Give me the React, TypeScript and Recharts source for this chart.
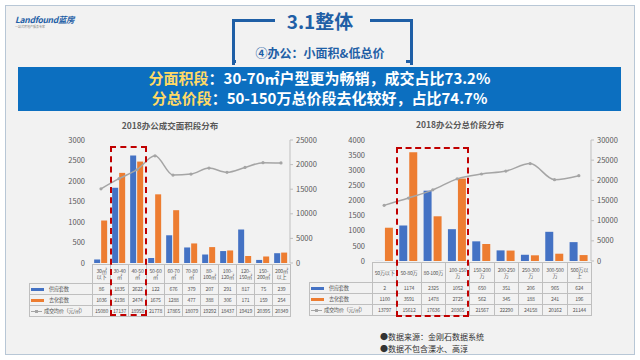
import React from 'react';
import { ComposedChart, Bar, Line, XAxis, YAxis } from 'recharts';

const areaCats = ['30㎡以下', '30-40㎡', '40-50㎡', '50-60㎡', '60-70㎡', '70-80㎡', '80-100㎡', '100-120㎡', '120-150㎡', '150-200㎡', '200㎡以上'];
const areaCatLabels = ['30㎡|以下', '30-40|㎡', '40-50|㎡', '50-60|㎡', '60-70|㎡', '70-80|㎡', '80-|100㎡', '100-|120㎡', '120-|150㎡', '150-|200㎡', '200㎡|以上'];
const areaSupply = [86, 1835, 2622, 122, 676, 379, 207, 291, 817, 75, 239];
const areaSold = [1036, 2198, 2474, 1675, 1288, 477, 388, 306, 171, 159, 254];
const areaPrice = [15080, 17137, 18958, 21778, 17865, 18079, 19292, 18437, 19419, 20395, 20349];
const areaLeftTicks = [0, 500, 1000, 1500, 2000, 2500, 3000];
const areaRightTicks = [0, 5000, 10000, 15000, 20000, 25000];

const priceCats = ['50万以下', '50-80万', '80-100万', '100-150万', '150-200万', '200-250万', '250-300万', '300-500万', '500万以上'];
const priceCatLabels = ['50万以下', '50-80万', '80-100万', '100-150|万', '150-200|万', '200-250|万', '250-300|万', '300-500|万', '500万以|上'];
const priceSupply = [2, 1174, 2325, 1052, 650, 351, 206, 965, 624];
const priceSold = [1100, 3591, 1478, 2725, 562, 345, 188, 241, 196];
const priceAvg = [13797, 15612, 17636, 20365, 21567, 22290, 24158, 20162, 21144];
const priceLeftTicks = [0, 500, 1000, 1500, 2000, 2500, 3000, 3500, 4000];
const priceRightTicks = [0, 5000, 10000, 15000, 20000, 25000, 30000];

const seriesNames = ['供应套数', '去化套数', '成交均价（元/㎡）'];

const BLUE = '#4472c4';
const ORANGE = '#ed7d31';
const GRAY = '#a5a5a5';
const TXT = '#595959';
const FONT = '"Noto Sans CJK SC", "Noto Sans", sans-serif';

function build(cats: string[], a: number[], b: number[], c: number[]) {
  return cats.map((name, i) => ({ name, supply: a[i], sold: b[i], price: c[i] }));
}

function MixChart(props: {
  left: number; top: number; width: number; height: number;
  data: any[]; leftTicks: number[]; rightTicks: number[]; gapBar: number;
}) {
  const { left, top, width, height, data, leftTicks, rightTicks, gapBar } = props;
  const tick = { fontSize: 7.5, fill: TXT };
  return (
    <div style={{ position: 'absolute', left, top }}>
      <ComposedChart width={width} height={height} data={data}
        margin={{ top: 10, right: 0, bottom: 7, left: 0 }} barCategoryGap="12%" barGap={gapBar}>
        <XAxis dataKey="name" hide />
        <YAxis yAxisId="l" orientation="left" width={52} domain={[0, leftTicks[leftTicks.length - 1]]}
          ticks={leftTicks} interval={0} axisLine={false} tickLine={false} tickSize={0} tickMargin={7} tick={tick} />
        <YAxis yAxisId="r" orientation="right" width={50} domain={[0, rightTicks[rightTicks.length - 1]]}
          ticks={rightTicks} interval={0} axisLine={{ stroke: '#bfbfbf' }} tickLine={{ stroke: '#bfbfbf' }}
          tickSize={3} tickMargin={3} tick={tick} />
        <Bar yAxisId="l" dataKey="supply" fill={BLUE} isAnimationActive={false} />
        <Bar yAxisId="l" dataKey="sold" fill={ORANGE} isAnimationActive={false} />
        <Line yAxisId="r" dataKey="price" type="monotone" stroke={GRAY} strokeWidth={1.5}
          dot={{ r: 1.6, fill: GRAY, stroke: 'none' }} isAnimationActive={false} />
      </ComposedChart>
    </div>
  );
}

function Swatch({ kind }: { kind: number }) {
  if (kind === 2) {
    return (
      <span style={{ position: 'relative', display: 'inline-block', width: 11, height: 5, marginRight: 2, verticalAlign: 'middle' }}>
        <span style={{ position: 'absolute', left: 0, top: 2, width: 11, height: 1, background: GRAY }} />
        <span style={{ position: 'absolute', left: 4, top: 1, width: 3, height: 3, background: GRAY }} />
      </span>
    );
  }
  return <span style={{ display: 'inline-block', width: 13, height: 3, marginRight: 5, verticalAlign: 'middle', background: kind === 0 ? BLUE : ORANGE }} />;
}

function DataTable(props: {
  left: number; top: number; legendW: number; colW: number; catH: number; rowH: number;
  labels: string[]; rows: number[][];
}) {
  const { left, top, legendW, colW, catH, rowH, labels, rows } = props;
  const cell: React.CSSProperties = { border: '1px solid #bfbfbf', padding: 0, textAlign: 'center', color: TXT, fontSize: 5.2, letterSpacing: -0.25, lineHeight: 1.1, overflow: 'hidden', whiteSpace: 'nowrap' };
  return (
    <table style={{ position: 'absolute', left, top, borderCollapse: 'collapse', tableLayout: 'fixed', width: legendW + labels.length * colW, fontFamily: FONT }}>
      <colgroup>
        <col style={{ width: legendW }} />
        {labels.map((_, i) => <col key={i} style={{ width: colW }} />)}
      </colgroup>
      <tbody>
        <tr style={{ height: catH }}>
          <td style={{ border: 'none', borderBottom: '1px solid #bfbfbf', padding: 0 }} />
          {labels.map((l, i) => (
            <td key={i} style={cell}>{l.split('|').map((p, j) => <div key={j}>{p}</div>)}</td>
          ))}
        </tr>
        {rows.map((r, ri) => (
          <tr key={ri} style={{ height: rowH }}>
            <td style={{ ...cell, textAlign: 'left', paddingLeft: 1, letterSpacing: -0.3 }}><Swatch kind={ri} />{seriesNames[ri]}</td>
            {r.map((v, i) => <td key={i} style={cell}>{v}</td>)}
          </tr>
        ))}
      </tbody>
    </table>
  );
}

export default function App() {
  const areaData = build(areaCats, areaSupply, areaSold, areaPrice);
  const priceData = build(priceCats, priceSupply, priceSold, priceAvg);
  const blue = '#1f5fa6';
  return (
    <div style={{ position: 'absolute', left: 0, top: 0, width: 640, height: 360, background: '#ffffff', fontFamily: FONT, overflow: 'hidden' }}>
      <div style={{ position: 'absolute', left: 5, top: 5, width: 628, height: 348, background: '#f2f2f2', border: '1px solid #b8c7d6' }} />
      {/* logo */}
      <div style={{ position: 'absolute', left: 15, top: 13, fontSize: 8.5, fontWeight: 700, fontStyle: 'italic', color: blue, letterSpacing: -0.3 }}>Landfound蓝房</div>
      <div style={{ position: 'absolute', left: 15, top: 25, fontSize: 3, color: '#888' }}>一站式房地产服务专家</div>
      {/* title */}
      <div style={{ position: 'absolute', left: 232, top: 19, width: 40, height: 43, borderTop: `3px solid ${blue}`, borderLeft: `3px solid ${blue}` }} />
      <div style={{ position: 'absolute', left: 232, top: 60, width: 4, height: 3, background: blue }} />
      <div style={{ position: 'absolute', left: 370, top: 19, width: 40, height: 43, borderTop: `3px solid ${blue}`, borderRight: `3px solid ${blue}` }} />
      <div style={{ position: 'absolute', left: 406, top: 60, width: 7, height: 3, background: blue }} />
      <div style={{ position: 'absolute', left: 0, top: 7, width: 640, textAlign: 'center', fontSize: 19, fontWeight: 700, color: blue }}>3.1整体</div>
      <div style={{ position: 'absolute', left: 0, top: 44, width: 640, textAlign: 'center', fontSize: 12, fontWeight: 700, color: blue }}>④办公：小面积&amp;低总价</div>
      {/* banner */}
      <div style={{ position: 'absolute', left: 18, top: 67, width: 603, height: 43, background: '#0c6fc0', color: '#fff', textAlign: 'center', fontSize: 15, fontWeight: 700, lineHeight: '20px', paddingTop: 1 }}>
        <div><span style={{ color: '#ffd966' }}>分面积段</span>：30-70㎡户型更为畅销，成交占比73.2%</div>
        <div><span style={{ color: '#ffd966' }}>分总价段</span>：50-150万总价段去化较好，占比74.7%</div>
      </div>
      {/* left chart */}
      <div style={{ position: 'absolute', left: 70, top: 119, width: 200, textAlign: 'center', fontSize: 8.5, fontWeight: 700, color: TXT }}>2018办公成交面积段分布</div>
      <MixChart left={40} top={130} width={300} height={140} data={areaData}
        leftTicks={areaLeftTicks} rightTicks={areaRightTicks} gapBar={1} />
      <DataTable left={29} top={264} legendW={63} colW={18} catH={19} rowH={11}
        labels={areaCatLabels} rows={[areaSupply, areaSold, areaPrice]} />
      <div style={{ position: 'absolute', left: 110, top: 146, width: 37, height: 170, border: '2px dashed #c00000', boxSizing: 'border-box' }} />
      {/* right chart */}
      <div style={{ position: 'absolute', left: 360, top: 118, width: 200, textAlign: 'center', fontSize: 8.5, fontWeight: 700, color: TXT }}>2018办公分总价段分布</div>
      <MixChart left={320} top={130} width={321} height={138} data={priceData}
        leftTicks={priceLeftTicks} rightTicks={priceRightTicks} gapBar={2} />
      <DataTable left={309} top={262} legendW={63} colW={24.33} catH={20} rowH={11}
        labels={priceCatLabels} rows={[priceSupply, priceSold, priceAvg]} />
      <div style={{ position: 'absolute', left: 396, top: 147, width: 73, height: 170, border: '2px dashed #c00000', boxSizing: 'border-box' }} />
      {/* notes */}
      <div style={{ position: 'absolute', left: 380, top: 331, fontSize: 8, color: '#333', lineHeight: '12px' }}>
        <div>●数据来源：金刚石数据系统</div>
        <div>●数据不包含溧水、高淳</div>
      </div>
    </div>
  );
}
